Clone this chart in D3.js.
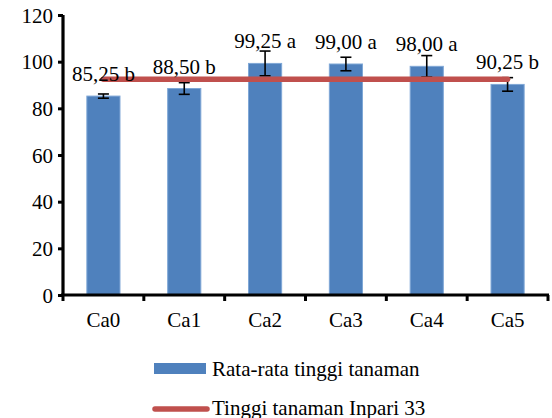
<!DOCTYPE html>
<html><head><meta charset="utf-8">
<script src="https://cdn.jsdelivr.net/npm/d3@7"></script>
<style>body{margin:0;background:#fff}svg{display:block}svg text{font-family:'Liberation Serif','Times New Roman',Times,serif !important;fill:#000}</style>
</head><body><svg id="c" width="552" height="418"></svg>
<script>
const categories = ["Ca0","Ca1","Ca2","Ca3","Ca4","Ca5"];
const meanHeight = [85.25, 88.50, 99.25, 99.00, 98.00, 90.25];
const errors = [0.9, 2.5, 5.3, 2.9, 4.6, 2.9];
const labels = ["85,25 b","88,50 b","99,25 a","99,00 a","98,00 a","90,25 b"];
const inpari33 = [92.5, 92.5, 92.5, 92.5, 92.5, 92.5];
const yTicks = [0,20,40,60,80,100,120];
const legendNames = ["Rata-rata tinggi tanaman","Tinggi tanaman Inpari 33"];

const FS = 21;
const svg = d3.select("#c");
const L = 63, R = 548, T = 15, B = 295;
const x = d3.scaleBand().domain(categories).range([L, R]).paddingInner(0.59).paddingOuter(0.295);
const y = d3.scaleLinear().domain([0,120]).range([B, T]);
const blue = "#4F81BD", red = "#C0504D";

// bars
svg.append("g").selectAll("rect").data(categories).join("rect")
  .attr("x", d => x(d)).attr("width", x.bandwidth())
  .attr("y", (d,i) => y(meanHeight[i])).attr("height", (d,i) => y(0) - y(meanHeight[i]))
  .attr("fill", blue).attr("stroke", "#7FA7D6").attr("stroke-width", 1);

// error bars
const eg = svg.append("g").attr("stroke", "#000").attr("stroke-width", 1.6);
categories.forEach((c,i) => {
  const cx = x(c) + x.bandwidth()/2;
  const hi = y(meanHeight[i] + errors[i]), lo = y(meanHeight[i] - errors[i]);
  eg.append("line").attr("x1", cx).attr("x2", cx).attr("y1", hi).attr("y2", lo);
  eg.append("line").attr("x1", cx-5.5).attr("x2", cx+5.5).attr("y1", hi).attr("y2", hi);
  eg.append("line").attr("x1", cx-5.5).attr("x2", cx+5.5).attr("y1", lo).attr("y2", lo);
});

// reference line
const line = d3.line().x((d,i) => x(categories[i]) + x.bandwidth()/2).y(d => y(d));
svg.append("path").datum(inpari33).attr("d", line)
  .attr("fill", "none").attr("stroke", red).attr("stroke-width", 5.5).attr("stroke-linecap", "round");

// value labels
svg.append("g").selectAll("text").data(categories).join("text")
  .attr("x", d => x(d) + x.bandwidth()/2)
  .attr("y", (d,i) => y(meanHeight[i]) - 15)
  .attr("text-anchor", "middle").attr("font-size", FS)
  .text((d,i) => labels[i]);

// y axis
const ya = svg.append("g").attr("transform", `translate(${L},0)`)
  .call(d3.axisLeft(y).tickValues(yTicks).tickSize(5).tickPadding(5));
ya.attr("font-family", null).attr("font-size", null);
ya.select(".domain").attr("stroke-width", 3.2).attr("d", `M0,${T}V${B}`);
ya.selectAll(".tick line").attr("stroke-width", 3);
ya.selectAll(".tick text").attr("font-size", FS).attr("dy", "0.34em");

// x axis
const xEdges = d3.scaleLinear().domain([0, categories.length]).range([L, R]);
const xa = svg.append("g").attr("transform", `translate(0,${B})`);
xa.append("line").attr("x1", L-2).attr("x2", R+1).attr("stroke", "#000").attr("stroke-width", 3.2);
xa.selectAll("line.t").data(d3.range(categories.length+1)).join("line").attr("class","t")
  .attr("x1", d => xEdges(d)).attr("x2", d => xEdges(d)).attr("y1", 0).attr("y2", 6)
  .attr("stroke", "#000").attr("stroke-width", 3);
xa.selectAll("text").data(categories).join("text")
  .attr("x", d => x(d) + x.bandwidth()/2).attr("y", 32)
  .attr("text-anchor", "middle").attr("font-size", FS).text(d => d);

// legend
const lg = svg.append("g");
lg.append("rect").attr("x", 154).attr("y", 363).attr("width", 52).attr("height", 11).attr("fill", blue);
lg.append("text").attr("x", 212).attr("y", 376).attr("font-size", FS).text(legendNames[0]);
lg.append("line").attr("x1", 155).attr("x2", 207).attr("y1", 409).attr("y2", 409)
  .attr("stroke", red).attr("stroke-width", 5.5).attr("stroke-linecap", "round");
lg.append("text").attr("x", 212).attr("y", 415).attr("font-size", FS).text(legendNames[1]);
</script></body></html>
